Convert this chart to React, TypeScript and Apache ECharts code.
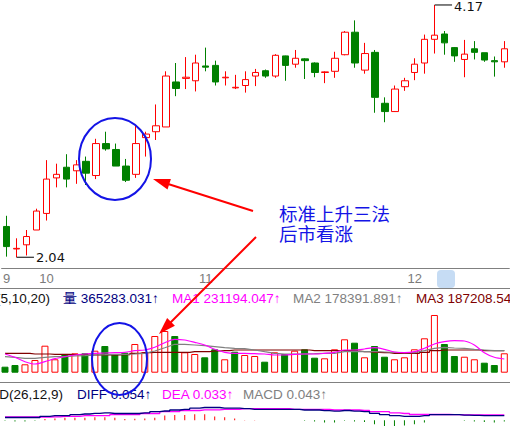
import React, { useEffect, useRef } from 'react';
import * as echarts from 'echarts';

// ---- price data (open, close, low, high) ----
const openP = [2.30, 2.11, 2.145, 2.27, 2.41, 2.71, 2.80, 2.77, 2.85, 2.73, 3.00, 2.95, 2.81, 2.74, 3.05, 3.10, 3.14, 3.52, 3.55, 3.53, 3.655, 3.66, 3.555, 3.47, 3.49, 3.57, 3.615, 3.57, 3.74, 3.67, 3.715, 3.68, 3.60, 3.61, 3.75, 3.94, 3.62, 3.77, 3.34, 3.27, 3.48, 3.60, 3.68, 3.88, 3.925, 3.81, 3.71, 3.80, 3.767, 3.70, 3.69];
const closeP = [2.13, 2.115, 2.215, 2.43, 2.70, 2.74, 2.70, 2.82, 2.75, 3.00, 2.955, 2.81, 2.69, 3.00, 3.08, 3.15, 3.57, 3.465, 3.56, 3.68, 3.645, 3.52, 3.56, 3.475, 3.54, 3.60, 3.57, 3.745, 3.66, 3.72, 3.70, 3.60, 3.605, 3.72, 3.94, 3.68, 3.76, 3.39, 3.27, 3.46, 3.53, 3.67, 3.88, 3.915, 3.85, 3.74, 3.755, 3.77, 3.705, 3.69, 3.80];
const lowP = [2.045, 2.04, 2.055, 2.27, 2.35, 2.63, 2.63, 2.66, 2.65, 2.70, 2.94, 2.81, 2.675, 2.71, 2.89, 3.03, 3.14, 3.40, 3.46, 3.44, 3.61, 3.49, 3.49, 3.46, 3.43, 3.485, 3.555, 3.555, 3.53, 3.64, 3.545, 3.56, 3.51, 3.555, 3.745, 3.64, 3.59, 3.26, 3.18, 3.267, 3.445, 3.535, 3.59, 3.76, 3.75, 3.69, 3.56, 3.71, 3.69, 3.565, 3.64];
const highP = [2.39, 2.20, 2.27, 2.45, 2.86, 2.83, 2.91, 2.86, 2.89, 3.04, 3.10, 3.00, 2.87, 3.15, 3.10, 3.33, 3.61, 3.68, 3.73, 3.75, 3.81, 3.70, 3.61, 3.58, 3.61, 3.63, 3.625, 3.755, 3.742, 3.79, 3.72, 3.685, 3.61, 3.775, 3.95, 4.04, 3.85, 3.79, 3.39, 3.49, 3.555, 3.72, 3.92, 4.17, 3.95, 3.815, 3.875, 3.865, 3.767, 3.735, 3.865];

// ---- volume and its moving averages ----
const volume = [76400, 98000, 106900, 161600, 343700, 170600, 234200, 246900, 246900, 280000, 339800, 234200, 254600, 365300, 259700, 467100, 530800, 467100, 259700, 238000, 196000, 297800, 170600, 267300, 225300, 212600, 140000, 259700, 238000, 280000, 297800, 190900, 183300, 297800, 425100, 381800, 196000, 339800, 203600, 170600, 196000, 297800, 437800, 734400, 365283, 212600, 203600, 170600, 127300, 98000, 246900];
const volMA5 = [238000, 196000, 140000, 110700, 140000, 178200, 203600, 225300, 238000, 246900, 250700, 254600, 259700, 280000, 288900, 323300, 381800, 425100, 416200, 386900, 352600, 297800, 259700, 246900, 246900, 241800, 238000, 225300, 225300, 234200, 238000, 238000, 246900, 259700, 288900, 288900, 301700, 318200, 297800, 263500, 254600, 267300, 310600, 365300, 394600, 407300, 403500, 352600, 254600, 196000, 174400];
const volMA10 = [203600, 196000, 183300, 183300, 196000, 203600, 203600, 212600, 216400, 225300, 229100, 234200, 234200, 238000, 246900, 276200, 318200, 361500, 361500, 352600, 343700, 330900, 318200, 310600, 305500, 288900, 267300, 246900, 238000, 238000, 238000, 241800, 246900, 246900, 267300, 267300, 267300, 267300, 263500, 259700, 254600, 254600, 280000, 310600, 323300, 314400, 310600, 297800, 288900, 280000, 280000];
const volMA20 = [246900, 246900, 246900, 238000, 238000, 234200, 234200, 229100, 225300, 225300, 225300, 225300, 229100, 246900, 254600, 259700, 259700, 259700, 259700, 267300, 267300, 276200, 280000, 288900, 288900, 288900, 288900, 288900, 288900, 288900, 288900, 280000, 280000, 280000, 280000, 276200, 267300, 259700, 254600, 246900, 246900, 246900, 259700, 280000, 288900, 288900, 288900, 288900, 280000, 280000, 280000];

// ---- MACD ----
const diff = [0.02, 0.02, 0.02, 0.02, 0.0285, 0.0335, 0.0335, 0.04, 0.045, 0.05, 0.0535, 0.0485, 0.0485, 0.0485, 0.0535, 0.0615, 0.0665, 0.0735, 0.0785, 0.0865, 0.0915, 0.0915, 0.0865, 0.0865, 0.0835, 0.0785, 0.0785, 0.0785, 0.0785, 0.0785, 0.0735, 0.0735, 0.0685, 0.065, 0.07, 0.065, 0.0615, 0.05, 0.04, 0.0335, 0.0285, 0.0285, 0.0335, 0.04, 0.04, 0.04, 0.0365, 0.035, 0.0335, 0.0335, 0.0335];
const dea = [0.0235, 0.0235, 0.0235, 0.0235, 0.0235, 0.025, 0.0285, 0.0285, 0.0335, 0.0335, 0.0335, 0.0415, 0.0415, 0.0415, 0.0485, 0.0485, 0.0615, 0.0615, 0.07, 0.07, 0.075, 0.075, 0.0785, 0.0785, 0.0835, 0.0835, 0.0835, 0.0835, 0.0835, 0.0785, 0.0785, 0.0785, 0.0785, 0.0735, 0.0735, 0.0735, 0.07, 0.0615, 0.0615, 0.0535, 0.0485, 0.0415, 0.0415, 0.0415, 0.0415, 0.04, 0.0385, 0.0385, 0.0385, 0.0385, 0.0385];
const macd = [-0.0035, -0.0085, -0.0085, -0.0035, 0.0085, 0.0135, 0.0185, 0.0185, 0.0185, 0.0215, 0.0215, 0.0185, 0.0085, 0.0115, 0.0135, 0.0185, 0.0335, 0.0385, 0.0385, 0.0435, 0.0435, 0.0265, 0.0215, 0.0135, 0.0015, 0.0015, 0, 0, 0, 0, -0.0035, -0.0085, -0.015, -0.015, -0.0035, -0.0085, -0.0115, -0.0285, -0.0415, -0.0415, -0.0365, -0.0285, -0.015, 0, 0, 0, -0.0035, -0.0085, -0.0115, -0.015, -0.0085];

// ---- axis labels / ticks ----
const monthTickIndex = [0, 3, 19, 40];
const monthTickText = ['9', '10', '11', '12'];
const axisTickIndex = [9, 14, 19, 24, 29, 34, 39, 44, 49];

// ---- marks ----
const highMark = { index: 43, value: 4.17, text: '4.17' };
const lowMark = { index: 1, value: 2.04, text: '2.04' };

// ---- header texts ----
const volHeader = { name: 'VOL(5,10,20)', vol: '量 365283.031↑', ma1: 'MA1 231194.047↑', ma2: 'MA2 178391.891↑', ma3: 'MA3 187208.547↑' };
const macdHeader = { name: 'MACD(26,12,9)', diff: 'DIFF 0.054↑', dea: 'DEA 0.033↑', macd: 'MACD 0.043↑' };
const noteLines = ['标准上升三法', '后市看涨'];

const RED = '#ff0000';
const GREEN = '#008000';
const NAVY = '#000080';
const MAGENTA = '#ff00ff';
const GRAY = '#808080';
const DARKRED = '#800000';
const BLUE = '#1414e6';
const MARK_LEN = 1.75;
const SANS = '"Liberation Sans", Arial, sans-serif';
const CJK = '"Noto Sans CJK SC", sans-serif';

export default function App() {
  const ref = useRef<HTMLDivElement>(null);
  useEffect(() => {
    if (!ref.current) return;
    const chart = echarts.init(ref.current, undefined, { renderer: 'svg' });
    const N = closeP.length;
    const cats = closeP.map((_, i) => String(i + 1));
    const candleData = openP.map((o, i) => [o, closeP[i], lowP[i], highP[i]]);
    const volData = volume.map((v, i) => {
      const up = i === 0 ? closeP[0] >= openP[0] : closeP[i] >= closeP[i - 1];
      return {
        value: v,
        itemStyle: up
          ? { color: '#ffffff', borderColor: RED, borderWidth: 1 }
          : { color: GREEN, borderColor: GREEN, borderWidth: 1 },
      };
    });
    const macdData = macd.map((v) => ({ value: v, itemStyle: { color: v >= 0 ? RED : GREEN } }));

    const txt = (x: number, y: number, text: string, fill: string, align = 'left', size = 13.5, family = SANS, extra: any = {}) => ({
      type: 'text',
      x,
      y,
      z: 50,
      style: {
        text,
        fill,
        fontSize: size,
        fontFamily: family,
        align,
        textAlign: align,
        verticalAlign: 'middle',
        textVerticalAlign: 'middle',
        ...extra,
      },
    });

    const arrowHead = (tx: number, ty: number, fx: number, fy: number) => {
      const dx = tx - fx, dy = ty - fy;
      const len = Math.hypot(dx, dy);
      const ux = dx / len, uy = dy / len;
      const L = 17, W = 5.5;
      const bx = tx - ux * L, by = ty - uy * L;
      return {
        type: 'polygon',
        z: 60,
        shape: { points: [[tx, ty], [bx - uy * W, by + ux * W], [bx + uy * W, by - ux * W]] },
        style: { fill: RED },
      };
    };

    const option: any = {
      animation: false,
      backgroundColor: '#ffffff',
      grid: [
        { left: -0.7, width: 510, top: 0, height: 268.5 },
        { left: -0.7, width: 510, top: 300, height: 72.7 },
        { left: -0.7, width: 510, top: 400, height: 60 },
      ],
      xAxis: [
        {
          type: 'category',
          gridIndex: 0,
          position: 'bottom',
          data: cats,
          axisLine: { lineStyle: { color: GRAY, width: 1 } },
          axisTick: {
            alignWithLabel: true,
            length: 6,
            interval: (i: number) => axisTickIndex.includes(i),
            lineStyle: { color: GRAY },
          },
          axisLabel: {
            interval: (i: number) => monthTickIndex.includes(i),
            margin: 3,
            formatter: (_v: string, i: number) => {
              const k = monthTickIndex.indexOf(i);
              if (k < 0) return '';
              return k === 0 ? `{f|${monthTickText[k]}}` : `{m|${monthTickText[k]}}`;
            },
            rich: {
              f: { color: '#7b7b7b', fontSize: 13, fontFamily: SANS },
              m: { color: '#7b7b7b', fontSize: 13, fontFamily: SANS, padding: [0, 0, 0, 20] },
            },
          },
          splitLine: { show: false },
        },
        { type: 'category', gridIndex: 1, data: cats, show: false },
        { type: 'category', gridIndex: 2, data: cats, show: false },
        { type: 'value', gridIndex: 0, position: 'top', min: -0.5, max: N - 0.5, show: false },
        {
          type: 'category',
          gridIndex: 0,
          position: 'bottom',
          data: cats,
          axisLine: { show: false },
          axisTick: {
            alignWithLabel: true,
            length: 9,
            interval: (i: number) => i > 0 && monthTickIndex.includes(i),
            lineStyle: { color: GRAY },
          },
          axisLabel: { show: false },
          splitLine: { show: false },
        },
      ],
      yAxis: [
        { type: 'value', gridIndex: 0, min: 1.945, max: 4.212, show: false },
        { type: 'value', gridIndex: 1, min: 0, max: 925300, show: false },
        { type: 'value', gridIndex: 2, min: -0.155, max: 0.145, show: false },
      ],
      series: [
        {
          type: 'candlestick',
          xAxisIndex: 0,
          yAxisIndex: 0,
          data: candleData,
          barWidth: 7,
          itemStyle: { color: '#ffffff', color0: GREEN, borderColor: RED, borderColor0: GREEN, borderWidth: 1 },
        },
        {
          type: 'line',
          xAxisIndex: 3,
          yAxisIndex: 0,
          data: [[highMark.index, highMark.value], [highMark.index + MARK_LEN, highMark.value]],
          symbol: 'none',
          lineStyle: { color: '#000', width: 1 },
          endLabel: { show: true, formatter: highMark.text, color: '#111', fontSize: 13, fontFamily: '"DejaVu Sans", sans-serif', distance: 2, offset: [0, 1.5] },
        },
        {
          type: 'line',
          xAxisIndex: 3,
          yAxisIndex: 0,
          data: [[lowMark.index, lowMark.value], [lowMark.index + MARK_LEN, lowMark.value]],
          symbol: 'none',
          lineStyle: { color: '#000', width: 1 },
          endLabel: { show: true, formatter: lowMark.text, color: '#111', fontSize: 13, fontFamily: '"DejaVu Sans", sans-serif', distance: 2 },
        },
        { type: 'bar', xAxisIndex: 1, yAxisIndex: 1, data: volData, barWidth: 7 },
        { type: 'line', xAxisIndex: 1, yAxisIndex: 1, data: volMA20, symbol: 'none', step: 'middle', lineStyle: { color: DARKRED, width: 1.2 } },
        { type: 'line', xAxisIndex: 1, yAxisIndex: 1, data: volMA10, symbol: 'none', lineStyle: { color: GRAY, width: 1.2 } },
        { type: 'line', xAxisIndex: 1, yAxisIndex: 1, data: volMA5, symbol: 'none', smooth: 0.3, lineStyle: { color: MAGENTA, width: 1.2 } },
        { type: 'bar', xAxisIndex: 2, yAxisIndex: 2, data: macdData, barWidth: 1 },
        { type: 'line', xAxisIndex: 2, yAxisIndex: 2, data: dea, symbol: 'none', step: 'middle', lineStyle: { color: MAGENTA, width: 1.3 } },
        { type: 'line', xAxisIndex: 2, yAxisIndex: 2, data: diff, symbol: 'none', step: 'middle', lineStyle: { color: NAVY, width: 1.3 } },
      ],
      graphic: [
        { type: 'rect', z: -1, shape: { x: 437, y: 270, width: 18, height: 18, r: 4 }, style: { fill: '#c6dcf4' } },
        { type: 'line', z: 40, shape: { x1: 0, y1: 288.5, x2: 510, y2: 288.5 }, style: { stroke: GRAY, lineWidth: 1 } },
        { type: 'line', z: 40, shape: { x1: 0, y1: 382.5, x2: 510, y2: 382.5 }, style: { stroke: GRAY, lineWidth: 1 } },
        txt(50, 298, volHeader.name, '#111', 'right'),
        txt(63, 298, volHeader.vol, NAVY),
        txt(172, 298, volHeader.ma1, MAGENTA),
        txt(293, 298, volHeader.ma2, GRAY),
        txt(416, 298, volHeader.ma3, DARKRED),
        txt(63, 394, macdHeader.name, '#111', 'right'),
        txt(77, 394, macdHeader.diff, NAVY),
        txt(162, 394, macdHeader.dea, MAGENTA),
        txt(243, 394, macdHeader.macd, GRAY),
        { type: 'ellipse', z: 60, shape: { cx: 115, cy: 159, rx: 36, ry: 41 }, style: { fill: 'none', stroke: BLUE, lineWidth: 2 } },
        { type: 'ellipse', z: 60, shape: { cx: 119.5, cy: 359, rx: 27.5, ry: 36 }, style: { fill: 'none', stroke: BLUE, lineWidth: 2 } },
        { type: 'line', z: 60, shape: { x1: 253, y1: 211, x2: 165, y2: 183 }, style: { stroke: RED, lineWidth: 2 } },
        arrowHead(153, 179, 253, 211),
        { type: 'line', z: 60, shape: { x1: 256, y1: 237, x2: 168, y2: 325 }, style: { stroke: RED, lineWidth: 2 } },
        arrowHead(159, 334, 256, 237),
        txt(279, 212.5, noteLines[0], BLUE, 'left', 18.5, CJK),
        txt(279, 232.5, noteLines[1], BLUE, 'left', 18.5, CJK),
      ],
    };
    chart.setOption(option);
    return () => chart.dispose();
  }, []);
  return (
    <div style={{ position: 'fixed', left: 0, top: 0, width: 510, height: 442, background: '#fff' }}>
      <div ref={ref} style={{ width: 510, height: 442 }} />
    </div>
  );
}
